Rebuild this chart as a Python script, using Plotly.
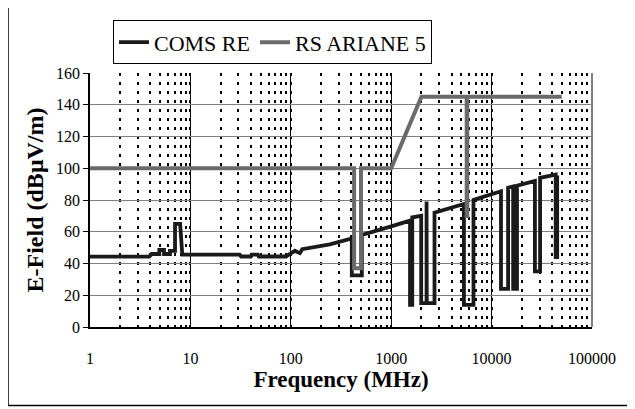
import plotly.graph_objects as go

# COMS RE (black)
coms_freq = [1, 3.9, 4.1, 4.9, 4.9, 5.46, 5.46, 6.26, 6.26, 7.03, 7.03, 7.9, 8.3, 31, 32, 40, 41, 47, 48, 90, 95, 98, 110, 118, 123, 130, 180, 245, 405,
             405, 510, 510, 1000, 1540, 1540, 1620, 1620, 1990, 1990, 2250, 2250, 2260, 2260, 2700, 2700, 5300, 5300, 6600, 6600,
             12400, 12400, 14600, 14600, 16400, 16400, 17900, 17900, 27000, 27000, 30400, 30400, 43500, 43500, 45000, 45000]
coms_val = [44.3, 44.3, 46, 46, 48.5, 48.5, 46, 46, 48, 48, 65, 65, 45.6, 45.6, 44.4, 44.4, 45.6, 45.6, 44.4, 44.4, 45.5, 46, 48, 47, 46.5, 49, 50.5, 52, 55.8,
            32.5, 32.5, 58, 63.4, 67, 14, 14, 69, 70, 15, 15, 79, 79, 15, 15, 72, 77.5, 14, 14, 80,
            85.5, 24, 24, 87.7, 88.5, 24, 24, 89, 92, 35, 35, 94, 96, 44, 44, 95.5]

# RS ARIANE 5 (grey)
rs_freq = [1, 427, 427, 500, 500, 1000, 2000, 5650, 5650, 5720, 5720, 50000]
rs_val = [100, 100, 37, 37, 100, 100, 145, 145, 70, 70, 145, 145]

x_tickvals = [1, 10, 100, 1000, 10000, 100000]
x_ticktext = ["1", "10", "100", "1000", "10000", "100000"]
y_tickvals = [0, 20, 40, 60, 80, 100, 120, 140, 160]

FONT = '"Times New Roman", "Liberation Serif", serif'

fig = go.Figure()
fig.add_trace(go.Scatter(x=coms_freq, y=coms_val, mode="lines", name="COMS RE",
                         line=dict(color="#1a1a1a", width=3.8)))
fig.add_trace(go.Scatter(x=rs_freq, y=rs_val, mode="lines", name="RS ARIANE 5",
                         line=dict(color="#6a6a6a", width=4)))

# page body has an 8px margin: shift everything by 8px
OFF = 8
W, H = 635 - OFF, 409 - OFF
L, T = 90 - OFF, 71 - OFF
pw, ph = 502, 256
R, B = W - L - pw, H - T - ph


def px_x(px):
    return (px - OFF - L) / pw


def px_y(py):
    return (T + ph - (py - OFF)) / ph


fig.update_layout(
    width=W, height=H,
    margin=dict(l=L, r=R, t=T, b=B),
    paper_bgcolor="white", plot_bgcolor="white",
    font=dict(family=FONT, color="black", size=16),
    showlegend=True,
    legend=dict(orientation="h", x=px_x(113), y=px_y(18),
                xanchor="left", yanchor="top",
                bordercolor="black", borderwidth=1,
                font=dict(family=FONT, size=22, color="black"),
                itemwidth=30, tracegroupgap=0, bgcolor="white"),
    xaxis=dict(type="log", range=[0, 5], tickvals=x_tickvals, ticktext=x_ticktext,
               showgrid=True, gridcolor="black", gridwidth=1,
               minor=dict(dtick="D1", showgrid=True, gridcolor="black", griddash="3px,6px", gridwidth=2.2),
               ticks="", showline=True, linecolor="black", linewidth=1.5,
               zeroline=False, tickfont=dict(family=FONT, size=16), ticklabelstandoff=16,
               title=dict(text="Frequency (MHz)", font=dict(family=FONT, size=23, weight="bold"), standoff=5)),
    yaxis=dict(range=[0, 160], tickvals=y_tickvals,
               showgrid=True, gridcolor="#808080", gridwidth=1,
               ticks="outside", ticklen=5, tickcolor="black", showline=True, linecolor="black", linewidth=1.5,
               zeroline=False, tickfont=dict(family=FONT, size=16),
               title=dict(text="E-Field (dBμV/m)", font=dict(family=FONT, size=24, weight="bold"), standoff=6)),
    shapes=[
        dict(type="line", xref="paper", yref="paper", x0=1, x1=1, y0=0, y1=1,
             line=dict(color="#808080", width=2)),
        dict(type="rect", xref="paper", yref="paper",
             x0=px_x(8), x1=px_x(632), y0=px_y(406), y1=px_y(3),
             line=dict(color="black", width=1.5)),
    ],
)

fig.write_html("out.html")
